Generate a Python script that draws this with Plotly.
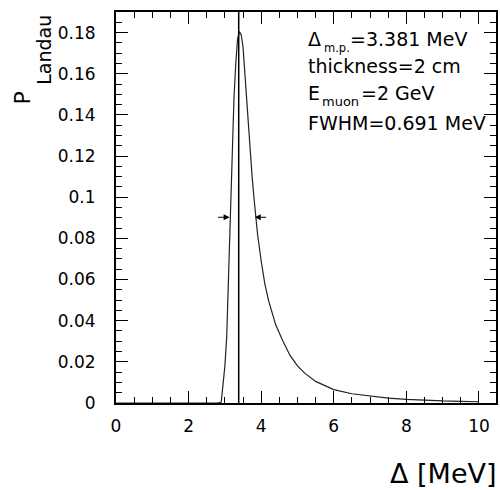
import plotly.graph_objects as go

# ---- data ----
delta = [0.0, 2.8, 2.9, 3.0, 3.05, 3.1, 3.15, 3.2, 3.25, 3.3, 3.35, 3.4, 3.45, 3.5,
         3.55, 3.6, 3.65, 3.7, 3.75, 3.8, 3.85, 3.9, 4.0, 4.1, 4.2, 4.4, 4.6, 4.8,
         5.0, 5.2, 5.5, 6.0, 6.5, 7.0, 7.5, 8.0, 8.5, 9.0, 9.5, 10.0]
p_landau = [0.0, 0.0, 0.0005, 0.018, 0.032, 0.060, 0.098, 0.125, 0.148, 0.165, 0.177,
            0.1805, 0.179, 0.173, 0.160, 0.144, 0.131, 0.121, 0.110, 0.100, 0.0905,
            0.082, 0.069, 0.058, 0.050, 0.038, 0.030, 0.023, 0.018, 0.0145, 0.0105,
            0.0065, 0.0045, 0.0033, 0.0024, 0.0018, 0.0013, 0.0010, 0.0008, 0.0006]
mpv = 3.381
fwhm_points = [3.13, 3.821]
half_max = max(p_landau) / 2

xtick_vals = [0, 2, 4, 6, 8, 10]
xtick_text = ["0", "2", "4", "6", "8", "10"]
ytick_vals = [0, 0.02, 0.04, 0.06, 0.08, 0.1, 0.12, 0.14, 0.16, 0.18]
ytick_text = ["0", "0.02", "0.04", "0.06", "0.08", "0.1", "0.12", "0.14", "0.16", "0.18"]

# ---- layout geometry (pixels) ----
W, H = 500, 490
L, R, T, B = 116, 498, 12, 403
FONT = "DejaVu Sans"


def px(xp):
    return (xp - L) / (R - L)


def py(yp):
    return (B - yp) / (B - T)


fig = go.Figure()
fig.add_trace(go.Scatter(x=delta, y=p_landau, mode="lines",
                         line=dict(color="#222222", width=1.2),
                         hoverinfo="skip", showlegend=False))

fig.add_shape(type="line", xref="x", yref="paper", x0=mpv, x1=mpv, y0=0, y1=1,
              line=dict(color="black", width=1.5))

annotations = []
# FWHM arrows
for xv, ax in zip(fwhm_points, [-13, 13]):
    annotations.append(dict(x=xv, y=half_max, xref="x", yref="y", ax=ax, ay=0,
                            text="", showarrow=True, arrowhead=2, arrowsize=1.2,
                            arrowwidth=1, arrowcolor="black"))


def txt(s, xp, yp, size, xanchor="left", angle=0):
    annotations.append(dict(text=s, x=px(xp), y=py(yp), xref="paper", yref="paper",
                            xanchor=xanchor, yanchor="middle", showarrow=False,
                            textangle=angle, borderpad=0,
                            font=dict(family=FONT, size=size, color="black")))


fs, fsub = 19, 13
# line 1
txt("Δ", 308, 46 - 0.346 * fs, fs)
txt("m.p.", 324, 52 - 0.346 * 11.5, 11.5)
txt("=3.381 MeV", 350, 46 - 0.346 * fs, fs)
# line 2
txt("thickness=2 cm", 308, 73 - 0.346 * fs, fs)
# line 3
txt("E", 308, 100 - 0.346 * fs, fs)
txt("muon", 322, 106 - 0.346 * fsub, fsub)
txt("=2 GeV", 361, 100 - 0.346 * fs, fs)
# line 4
txt("FWHM=0.691 MeV", 308, 130 - 0.346 * fs, fs)

# axis titles
txt("Δ [MeV]", 500, 483 - 0.346 * 27, 27, xanchor="right")
annotations.append(dict(text="P", x=px(30 - 0.346 * 22), y=py(97.5), xref="paper",
                        yref="paper", xanchor="center", yanchor="middle",
                        showarrow=False, textangle=-90, borderpad=0,
                        font=dict(family=FONT, size=22, color="black")))
annotations.append(dict(text="Landau", x=px(50 - 0.346 * 19), y=py(50), xref="paper",
                        yref="paper", xanchor="center", yanchor="middle",
                        showarrow=False, textangle=-90, borderpad=0,
                        font=dict(family=FONT, size=19, color="black")))

axis_common = dict(showline=True, linewidth=2, linecolor="black", mirror="allticks",
                   ticks="inside", ticklen=12, tickwidth=1.3, tickcolor="black",
                   showgrid=False, zeroline=False,
                   tickfont=dict(family=FONT, size=17, color="black"))

fig.update_layout(
    width=W, height=H, autosize=False,
    margin=dict(l=L, r=W - R, t=T, b=H - B, pad=0),
    paper_bgcolor="white", plot_bgcolor="white",
    showlegend=False,
    annotations=annotations,
    xaxis=dict(range=[0, 10.47], tickmode="array", tickvals=xtick_vals,
               ticktext=xtick_text, ticklabelstandoff=7,
               minor=dict(tickmode="linear", tick0=0, dtick=0.5, ticklen=6,
                          ticks="inside", tickwidth=1.1, tickcolor="black"),
               **axis_common),
    yaxis=dict(range=[0, 0.19], tickmode="array", tickvals=ytick_vals,
               ticktext=ytick_text, ticklabelstandoff=15,
               minor=dict(tickmode="linear", tick0=0, dtick=0.005, ticklen=6,
                          ticks="inside", tickwidth=1.1, tickcolor="black"),
               **axis_common),
)

fig.write_html("out.html", config={"displayModeBar": False},
               post_script="document.body.style.margin='0';"
                           "document.body.style.overflow='hidden';")
